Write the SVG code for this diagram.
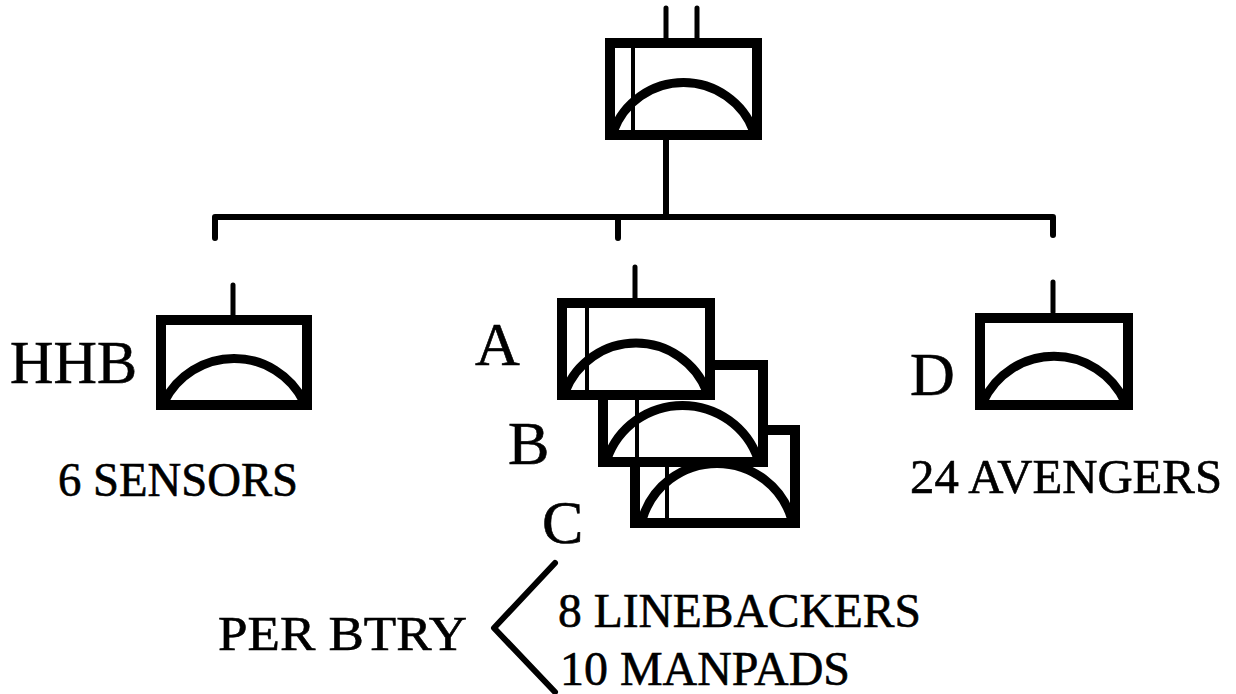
<svg xmlns="http://www.w3.org/2000/svg" width="1236" height="694" viewBox="0 0 1236 694">
<style>
.box{fill:#fff;stroke:#000;stroke-width:10;stroke-linejoin:miter}
.arc{fill:none;stroke:#000;stroke-width:9;stroke-linecap:round}
.thin{stroke:#000;stroke-width:4}
.stem{stroke:#000;stroke-width:5;stroke-linecap:round}
.conn{fill:none;stroke:#000;stroke-width:6;stroke-linecap:round;stroke-linejoin:round}
.big{font-family:"Liberation Serif","Times New Roman",serif;font-size:62px;fill:#000;stroke:#000;stroke-width:0.6}
.lbl{font-family:"Liberation Serif","Times New Roman",serif;font-size:48px;fill:#000;stroke:#000;stroke-width:0.6}
</style>
<rect width="1236" height="694" fill="#fff"/>
<g id="connectors">
<path class="conn" d="M666,140 V217 M215,238 V217 H1053 V235 M618,217 V238"/>
<path class="stem" d="M233,285 V315 M635,267 V298 M1053,282 V312"/>
<path class="conn" d="M555,563 L494,628 L555,692"/>
</g>
<g id="hq">
<path class="stem" d="M666,8 V40 M697,8 V40"/>
<rect class="box" x="610" y="43" width="147" height="92"/>
<line class="thin" x1="633" y1="46" x2="633" y2="132"/>
<path class="arc" d="M613,132 A75,75 0 0 1 754,132"/>
</g>
<g id="hhb">
<rect class="box" x="161" y="320" width="146" height="85"/>
<path class="arc" d="M164,402 A78,78 0 0 1 304,402"/>
<text class="big" x="10" y="383" textLength="127" lengthAdjust="spacingAndGlyphs">HHB</text>
<text class="lbl" x="58" y="496" textLength="240" lengthAdjust="spacingAndGlyphs">6 SENSORS</text>
</g>
<g id="btry-c">
<rect class="box" x="635" y="430" width="160" height="93"/>
<line class="thin" x1="667" y1="433" x2="667" y2="520"/>
<path class="arc" d="M642,520 A78,78 0 0 1 792,520"/>
<text class="big" x="542" y="543">C</text>
</g>
<g id="btry-b">
<rect class="box" x="603" y="365" width="160" height="97"/>
<line class="thin" x1="637" y1="368" x2="637" y2="459"/>
<path class="arc" d="M607,459 A80,80 0 0 1 758,459"/>
<text class="big" x="508" y="464">B</text>
</g>
<g id="btry-a">
<rect class="box" x="562" y="303" width="148" height="92"/>
<line class="thin" x1="587" y1="306" x2="587" y2="392"/>
<path class="arc" d="M565,392 A76,76 0 0 1 707,392"/>
<text class="big" x="475" y="365">A</text>
</g>
<g id="btry-d">
<rect class="box" x="980" y="318" width="148" height="87"/>
<path class="arc" d="M983,402 A78,78 0 0 1 1125,402"/>
<text class="big" x="910" y="395">D</text>
<text class="lbl" x="910" y="493" textLength="312" lengthAdjust="spacingAndGlyphs">24 AVENGERS</text>
</g>
<g id="per-btry">
<text class="lbl" x="218" y="650" textLength="249" lengthAdjust="spacingAndGlyphs">PER BTRY</text>
<text class="lbl" x="558" y="627" textLength="363" lengthAdjust="spacingAndGlyphs">8 LINEBACKERS</text>
<text class="lbl" x="560" y="685" textLength="290" lengthAdjust="spacingAndGlyphs">10 MANPADS</text>
</g>
</svg>
